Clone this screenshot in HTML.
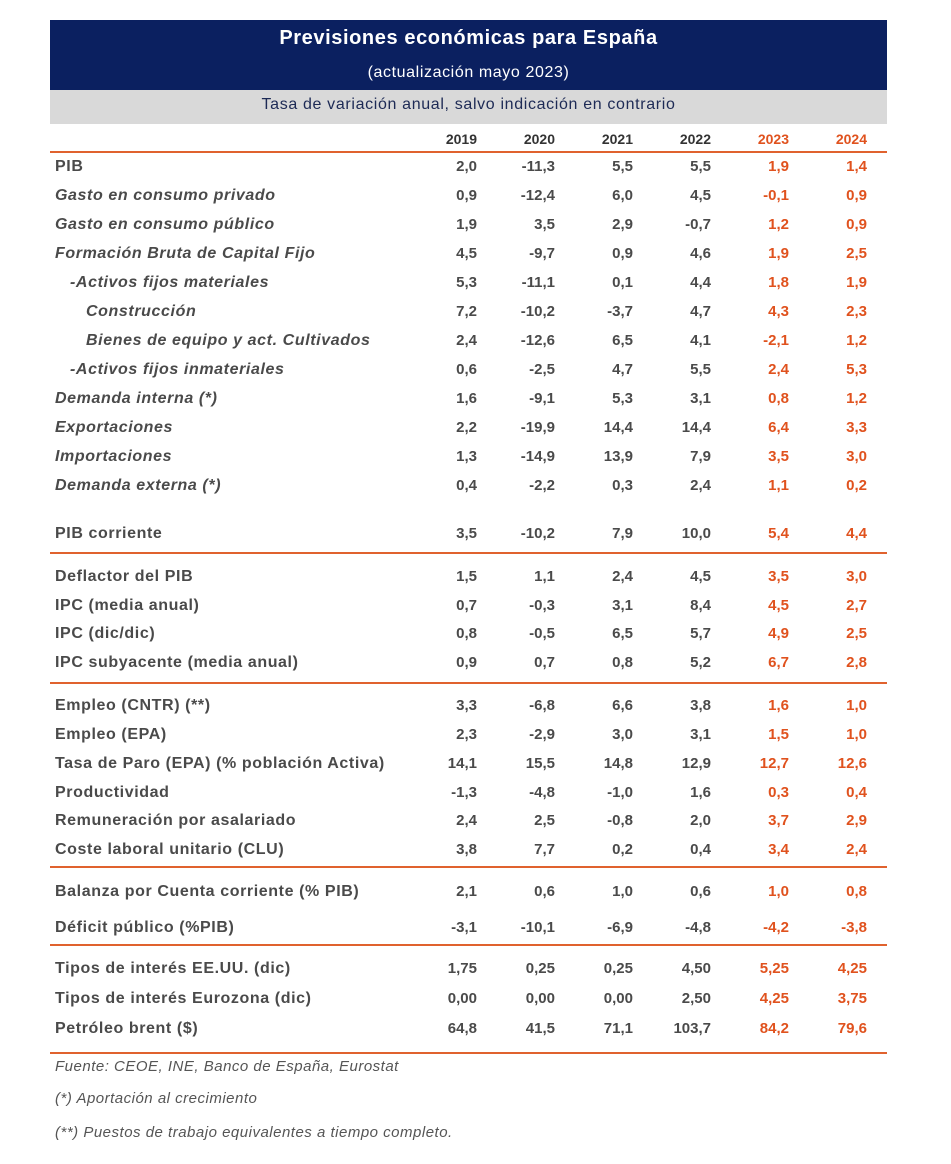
<!DOCTYPE html>
<html><head><meta charset="utf-8"><style>
body{margin:0;width:951px;height:1164px;background:#fff;position:relative;font-family:"Liberation Sans",sans-serif;overflow:hidden}
.hd{position:absolute;left:50px;top:20px;width:837px;height:70px;background:#0b2060;color:#fff;text-align:center}
.t1{position:absolute;top:7px;width:100%;font-size:20px;font-weight:bold;letter-spacing:0.6px}
.t2{position:absolute;top:44px;width:100%;font-size:16px;letter-spacing:0.6px}
.gb{position:absolute;left:50px;top:90px;width:837px;height:34px;background:#d9d9d9;color:#1d2a55;text-align:center;font-size:16px;line-height:30px;letter-spacing:0.65px}
.r{position:absolute;left:0;width:951px;height:20px;line-height:20px;font-size:15px;font-weight:bold;color:#4a4a4a}
.r span{position:absolute;top:0}
.l{left:55px;white-space:nowrap;font-size:16px;letter-spacing:0.6px}
.i{font-style:italic}
.v{width:70px;text-align:right}
.a{left:407px}.b{left:485px}.c{left:563px}.d{left:641px}.e{left:719px;color:#e0521e}.f{left:797px;color:#e0521e}
.hy span{color:#333}
.hy .e,.hy .f{color:#e0521e}
.hl{position:absolute;left:50px;width:837px;height:2px;background:#e0622e}
.ft{position:absolute;left:55px;font-size:15px;font-style:italic;color:#555;letter-spacing:0.5px}
</style></head><body>
<div class="hd"><div class="t1">Previsiones económicas para España</div><div class="t2">(actualización mayo 2023)</div></div>
<div class="gb">Tasa de variación anual, salvo indicación en contrario</div>
<div class="r hy" style="top:129px;font-size:14px"><span class="v a">2019</span><span class="v b">2020</span><span class="v c">2021</span><span class="v d">2022</span><span class="v e">2023</span><span class="v f">2024</span></div>
<div class="hl" style="top:151px"></div>
<div class="r" style="top:157px"><span class="l">PIB</span><span class="v a">2,0</span><span class="v b">-11,3</span><span class="v c">5,5</span><span class="v d">5,5</span><span class="v e">1,9</span><span class="v f">1,4</span></div>
<div class="r" style="top:186px"><span class="l i">Gasto en consumo privado</span><span class="v a">0,9</span><span class="v b">-12,4</span><span class="v c">6,0</span><span class="v d">4,5</span><span class="v e">-0,1</span><span class="v f">0,9</span></div>
<div class="r" style="top:215px"><span class="l i">Gasto en consumo público</span><span class="v a">1,9</span><span class="v b">3,5</span><span class="v c">2,9</span><span class="v d">-0,7</span><span class="v e">1,2</span><span class="v f">0,9</span></div>
<div class="r" style="top:244px"><span class="l i">Formación Bruta de Capital Fijo</span><span class="v a">4,5</span><span class="v b">-9,7</span><span class="v c">0,9</span><span class="v d">4,6</span><span class="v e">1,9</span><span class="v f">2,5</span></div>
<div class="r" style="top:273px"><span class="l i" style="left:70px">-Activos fijos materiales</span><span class="v a">5,3</span><span class="v b">-11,1</span><span class="v c">0,1</span><span class="v d">4,4</span><span class="v e">1,8</span><span class="v f">1,9</span></div>
<div class="r" style="top:302px"><span class="l i" style="left:86px">Construcción</span><span class="v a">7,2</span><span class="v b">-10,2</span><span class="v c">-3,7</span><span class="v d">4,7</span><span class="v e">4,3</span><span class="v f">2,3</span></div>
<div class="r" style="top:331px"><span class="l i" style="left:86px">Bienes de equipo y act. Cultivados</span><span class="v a">2,4</span><span class="v b">-12,6</span><span class="v c">6,5</span><span class="v d">4,1</span><span class="v e">-2,1</span><span class="v f">1,2</span></div>
<div class="r" style="top:360px"><span class="l i" style="left:70px">-Activos fijos inmateriales</span><span class="v a">0,6</span><span class="v b">-2,5</span><span class="v c">4,7</span><span class="v d">5,5</span><span class="v e">2,4</span><span class="v f">5,3</span></div>
<div class="r" style="top:389px"><span class="l i">Demanda interna (*)</span><span class="v a">1,6</span><span class="v b">-9,1</span><span class="v c">5,3</span><span class="v d">3,1</span><span class="v e">0,8</span><span class="v f">1,2</span></div>
<div class="r" style="top:418px"><span class="l i">Exportaciones</span><span class="v a">2,2</span><span class="v b">-19,9</span><span class="v c">14,4</span><span class="v d">14,4</span><span class="v e">6,4</span><span class="v f">3,3</span></div>
<div class="r" style="top:447px"><span class="l i">Importaciones</span><span class="v a">1,3</span><span class="v b">-14,9</span><span class="v c">13,9</span><span class="v d">7,9</span><span class="v e">3,5</span><span class="v f">3,0</span></div>
<div class="r" style="top:476px"><span class="l i">Demanda externa (*)</span><span class="v a">0,4</span><span class="v b">-2,2</span><span class="v c">0,3</span><span class="v d">2,4</span><span class="v e">1,1</span><span class="v f">0,2</span></div>
<div class="r" style="top:524px"><span class="l">PIB corriente</span><span class="v a">3,5</span><span class="v b">-10,2</span><span class="v c">7,9</span><span class="v d">10,0</span><span class="v e">5,4</span><span class="v f">4,4</span></div>
<div class="hl" style="top:552px"></div>
<div class="r" style="top:567px"><span class="l">Deflactor del PIB</span><span class="v a">1,5</span><span class="v b">1,1</span><span class="v c">2,4</span><span class="v d">4,5</span><span class="v e">3,5</span><span class="v f">3,0</span></div>
<div class="r" style="top:596px"><span class="l">IPC (media anual)</span><span class="v a">0,7</span><span class="v b">-0,3</span><span class="v c">3,1</span><span class="v d">8,4</span><span class="v e">4,5</span><span class="v f">2,7</span></div>
<div class="r" style="top:624px"><span class="l">IPC (dic/dic)</span><span class="v a">0,8</span><span class="v b">-0,5</span><span class="v c">6,5</span><span class="v d">5,7</span><span class="v e">4,9</span><span class="v f">2,5</span></div>
<div class="r" style="top:653px"><span class="l">IPC subyacente (media anual)</span><span class="v a">0,9</span><span class="v b">0,7</span><span class="v c">0,8</span><span class="v d">5,2</span><span class="v e">6,7</span><span class="v f">2,8</span></div>
<div class="hl" style="top:682px"></div>
<div class="r" style="top:696px"><span class="l">Empleo (CNTR) (**)</span><span class="v a">3,3</span><span class="v b">-6,8</span><span class="v c">6,6</span><span class="v d">3,8</span><span class="v e">1,6</span><span class="v f">1,0</span></div>
<div class="r" style="top:725px"><span class="l">Empleo (EPA)</span><span class="v a">2,3</span><span class="v b">-2,9</span><span class="v c">3,0</span><span class="v d">3,1</span><span class="v e">1,5</span><span class="v f">1,0</span></div>
<div class="r" style="top:754px"><span class="l">Tasa de Paro (EPA) (% población Activa)</span><span class="v a">14,1</span><span class="v b">15,5</span><span class="v c">14,8</span><span class="v d">12,9</span><span class="v e">12,7</span><span class="v f">12,6</span></div>
<div class="r" style="top:783px"><span class="l">Productividad</span><span class="v a">-1,3</span><span class="v b">-4,8</span><span class="v c">-1,0</span><span class="v d">1,6</span><span class="v e">0,3</span><span class="v f">0,4</span></div>
<div class="r" style="top:811px"><span class="l">Remuneración por asalariado</span><span class="v a">2,4</span><span class="v b">2,5</span><span class="v c">-0,8</span><span class="v d">2,0</span><span class="v e">3,7</span><span class="v f">2,9</span></div>
<div class="r" style="top:840px"><span class="l">Coste laboral unitario (CLU)</span><span class="v a">3,8</span><span class="v b">7,7</span><span class="v c">0,2</span><span class="v d">0,4</span><span class="v e">3,4</span><span class="v f">2,4</span></div>
<div class="hl" style="top:866px"></div>
<div class="r" style="top:882px"><span class="l">Balanza por Cuenta corriente (% PIB)</span><span class="v a">2,1</span><span class="v b">0,6</span><span class="v c">1,0</span><span class="v d">0,6</span><span class="v e">1,0</span><span class="v f">0,8</span></div>
<div class="r" style="top:918px"><span class="l">Déficit público (%PIB)</span><span class="v a">-3,1</span><span class="v b">-10,1</span><span class="v c">-6,9</span><span class="v d">-4,8</span><span class="v e">-4,2</span><span class="v f">-3,8</span></div>
<div class="hl" style="top:944px"></div>
<div class="r" style="top:959px"><span class="l">Tipos de interés EE.UU. (dic)</span><span class="v a">1,75</span><span class="v b">0,25</span><span class="v c">0,25</span><span class="v d">4,50</span><span class="v e">5,25</span><span class="v f">4,25</span></div>
<div class="r" style="top:989px"><span class="l">Tipos de interés Eurozona (dic)</span><span class="v a">0,00</span><span class="v b">0,00</span><span class="v c">0,00</span><span class="v d">2,50</span><span class="v e">4,25</span><span class="v f">3,75</span></div>
<div class="r" style="top:1019px"><span class="l">Petróleo brent ($)</span><span class="v a">64,8</span><span class="v b">41,5</span><span class="v c">71,1</span><span class="v d">103,7</span><span class="v e">84,2</span><span class="v f">79,6</span></div>
<div class="hl" style="top:1052px"></div>
<div class="ft" style="top:1058px">Fuente: CEOE, INE, Banco de España, Eurostat</div>
<div class="ft" style="top:1090px">(*) Aportación al crecimiento</div>
<div class="ft" style="top:1124px">(**) Puestos de trabajo equivalentes a tiempo completo.</div>
</body></html>
